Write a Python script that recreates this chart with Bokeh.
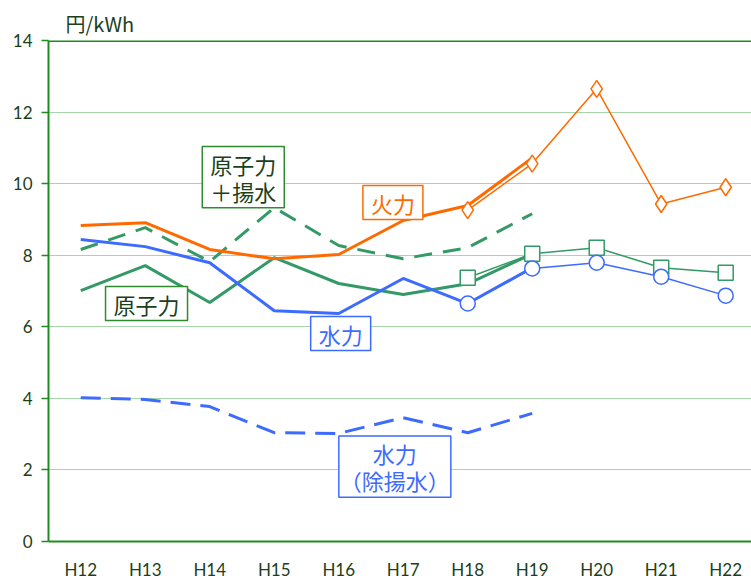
from bokeh.plotting import figure
from bokeh.models import Range1d, FixedTicker, Label, Span
from bokeh.embed import file_html
from bokeh.resources import INLINE

categories = ["H12", "H13", "H14", "H15", "H16", "H17", "H18", "H19", "H20", "H21", "H22"]

# Thick series, H12–H19
hist_years = ["H12", "H13", "H14", "H15", "H16", "H17", "H18", "H19"]
thermal_hist = [8.83, 8.91, 8.16, 7.90, 8.02, 8.97, 9.39, 10.72]
nuclear_hist = [7.01, 7.71, 6.68, 7.93, 7.21, 6.90, 7.20, 8.04]
nuclear_pump_hist = [8.16, 8.77, 7.82, 9.33, 8.27, 7.90, 8.21, 9.16]
hydro_hist = [8.44, 8.24, 7.79, 6.45, 6.37, 7.35, 6.65, 7.65]
hydro_ex_pump_hist = [4.02, 3.97, 3.77, 3.04, 3.02, 3.46, 3.04, 3.58]

# Thin series with markers, H18–H22
new_years = ["H18", "H19", "H20", "H21", "H22"]
thermal_new = [9.26, 10.56, 12.65, 9.43, 9.90]
nuclear_new = [7.37, 8.04, 8.21, 7.65, 7.51]
hydro_new = [6.65, 7.63, 7.79, 7.40, 6.87]

y_ticks = [0, 2, 4, 6, 8, 10, 12, 14]

ORANGE = "#FF6A00"
GREEN = "#339966"
BLUE = "#3D6BFF"
AXIS_GREEN = "#1E8C1E"
GRID_GREEN = "#A9D6A9"
TEXT_GREEN = "#1B3F1B"
JP = "Noto Sans CJK JP"

def idx(years):
    return [categories.index(y) for y in years]

p = figure(width=751, height=583, output_backend="svg", toolbar_location=None,
           x_range=Range1d(-0.5, 10.4), y_range=Range1d(0, 14),
           min_border_left=48, min_border_right=0, min_border_top=40, min_border_bottom=42,
           title="円/kWh")

p.title.text_font = JP
p.title.text_font_size = "20px"
p.title.text_font_style = "normal"
p.title.text_color = TEXT_GREEN
p.title.align = "left"
p.title.offset = 17
p.title.standoff = 5

p.background_fill_color = "white"
p.border_fill_color = "white"
p.outline_line_color = None

p.xgrid.grid_line_color = None
p.ygrid.grid_line_color = GRID_GREEN
p.ygrid.grid_line_width = 1
p.ygrid.ticker = FixedTicker(ticks=y_ticks)

p.add_layout(Span(location=y_ticks[-1], dimension="width", line_color=AXIS_GREEN, line_width=3))

p.yaxis.ticker = FixedTicker(ticks=y_ticks)
p.yaxis.axis_line_color = AXIS_GREEN
p.yaxis.axis_line_width = 2
p.yaxis.major_tick_line_color = AXIS_GREEN
p.yaxis.major_tick_line_width = 1.5
p.yaxis.major_tick_out = 7
p.yaxis.major_tick_in = 0
p.yaxis.minor_tick_line_color = None
p.yaxis.major_label_text_font = "Lato"
p.yaxis.major_label_text_font_size = "17px"
p.yaxis.major_label_text_color = TEXT_GREEN
p.yaxis.major_label_standoff = 9

p.xaxis.ticker = FixedTicker(ticks=list(range(len(categories))))
p.xaxis.major_label_overrides = {i: c for i, c in enumerate(categories)}
p.xaxis.axis_line_color = AXIS_GREEN
p.xaxis.axis_line_width = 2
p.xaxis.major_tick_line_color = None
p.xaxis.major_tick_out = 0
p.xaxis.major_tick_in = 0
p.xaxis.minor_tick_line_color = None
p.xaxis.major_label_text_font = "Lato"
p.xaxis.major_label_text_font_size = "17px"
p.xaxis.major_label_text_color = TEXT_GREEN
p.xaxis.major_label_standoff = 17

hx = idx(hist_years)
nx = idx(new_years)

# thin marker lines
p.line(nx, thermal_new, line_color=ORANGE, line_width=1.5)
p.line(nx, nuclear_new, line_color=GREEN, line_width=1.5)
p.line(nx, hydro_new, line_color=BLUE, line_width=1.5)

# thick lines
p.line(hx, hydro_ex_pump_hist, line_color=BLUE, line_width=3, line_dash="20 10")
p.line(hx, nuclear_pump_hist, line_color=GREEN, line_width=3, line_dash="18 11")
p.line(hx, nuclear_hist, line_color=GREEN, line_width=3)
p.line(hx, hydro_hist, line_color=BLUE, line_width=3)
p.line(hx, thermal_hist, line_color=ORANGE, line_width=3)

# markers
p.scatter(nx, thermal_new, marker="diamond", size=17, line_color=ORANGE, line_width=1.5, fill_color="white")
p.scatter(nx, nuclear_new, marker="square", size=15, line_color=GREEN, line_width=1.5, fill_color="white")
p.scatter(nx, hydro_new, marker="circle", size=15, line_color=BLUE, line_width=1.5, fill_color="white")

def box(x, y, text, color, text_color, hpad=8):
    lab = Label(x=x, y=y, text=text, text_align="center", text_baseline="middle",
                text_font=JP, text_font_size="22px", text_color=text_color,
                border_line_color=color, border_line_width=1.5,
                background_fill_color="white", padding=(hpad, 1), text_line_height=0.85)
    p.add_layout(lab)

box(2.52, 10.18, "原子力\n＋揚水", "#2E8B2E", TEXT_GREEN)
box(1.02, 6.65, "原子力", "#2E8B2E", TEXT_GREEN)
box(4.84, 9.47, "火力", ORANGE, ORANGE)
box(4.03, 5.81, "水力", BLUE, BLUE)
box(4.87, 2.09, "水力\n（除揚水）", BLUE, BLUE, hpad=1)

open("out.html", "w").write(file_html(p, INLINE))
